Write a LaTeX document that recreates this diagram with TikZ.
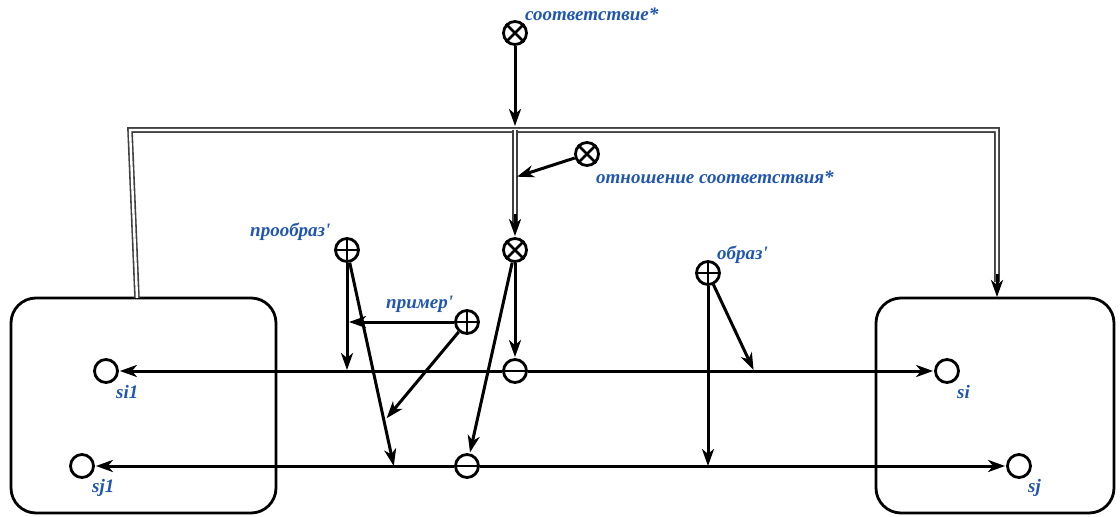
\documentclass[tikz,border=0pt]{standalone}
\usepackage{fontspec}
\setmainfont{Liberation Serif}
\usetikzlibrary{arrows.meta}
\definecolor{lbl}{RGB}{32,86,178}
\begin{document}
\begin{tikzpicture}[x=1pt,y=-1pt,
  arr/.style={-{Stealth[length=17pt,width=12pt,inset=5pt]}, line width=3pt, shorten >=1pt},
  dbl/.style={draw=black!75, line width=1.6pt, double=white, double distance=2.4pt},
  rel/.style={draw, circle, minimum size=23pt, inner sep=0pt, line width=2.8pt},
  sym/.style={line width=2.6pt},
  elem/.style={draw, circle, minimum size=23pt, inner sep=0pt, line width=2.8pt},
  setbox/.style={draw, rounded corners=25pt, line width=2.8pt},
  lab/.style={text=lbl, font=\fontsize{19}{19}\selectfont\bfseries\itshape, inner sep=0pt},
]
\useasboundingbox (0,0) rectangle (1120,517);

% set boxes
\draw[setbox] (11,298) rectangle (276,513);
\draw[setbox] (876,298) rectangle (1114,513);
\coordinate (Ltop) at (137,298);
\coordinate (Rtop) at (997,298);

% elements
\node[elem] (si1) at (106,371) {};
\node[elem] (sj1) at (82,466) {};
\node[elem] (si) at (947,371) {};
\node[elem] (sj) at (1019,466) {};
\node[lab, anchor=base west] (lsi1) at (116,398) {si1};
\node[lab, anchor=base west] (lsj1) at (92,492) {sj1};
\node[lab, anchor=base west] (lsi) at (957,398) {si};
\node[lab, anchor=base west] (lsj) at (1028,492) {sj};

% relation nodes
\node[rel] (corr) at (515,33) {};
\node[lab, anchor=base west] (lcorr) at (525,20) {соответствие*};
\node[rel] (rcorr) at (587,154) {};
\node[lab, anchor=base west] (lrcorr) at (596,183) {отношение соответствия*};
\node[rel] (mid) at (515,250) {};
\node[rel] (prob) at (347,250) {};
\node[lab, anchor=base west] (lprob) at (250,236) {прообраз\textquotesingle};
\node[rel] (prim) at (467,322) {};
\node[lab, anchor=base west] (lprim) at (386,308) {пример\textquotesingle};
\node[rel] (obr) at (708,273) {};
\node[lab, anchor=base west] (lobr) at (717,259) {образ\textquotesingle};
\node[rel] (mi) at (515,371) {};
\node[rel] (mj) at (467,466) {};

% symbols inside relation nodes
\foreach \n in {corr,rcorr,mid}{
  \draw[sym] (\n.north west) -- (\n.south east) (\n.north east) -- (\n.south west);}
\foreach \n in {prob,prim,obr}{
  \draw[sym] (\n.north) -- (\n.south) (\n.west) -- (\n.east);}
\draw[sym] ([xshift=-11pt]mi.center) -- ([xshift=11pt]mi.center);
\draw[sym] ([xshift=-11pt]mj.center) -- ([xshift=11pt]mj.center);

% double-line structure
\coordinate (TL) at (130,130);
\coordinate (TM) at (515,130);
\coordinate (TR) at (997,130);
\coordinate (ME) at (515,224);
\coordinate (RE) at (997,282);
\draw[dbl] (Ltop) -- (TL) -- (TR) -- (RE);
\draw[dbl] (TM) -- (ME);
\coordinate (TMa) at (515,127);
\coordinate (RA) at (516,177);
\draw[arr] (corr) -- (TMa);
\draw[arr] (rcorr) -- (RA);
\draw[arr] (515,214) -- (mid);
\draw[arr] (997,274) -- (Rtop);

% horizontal pairs
\draw[arr] (mi) -- (si1);
\draw[arr] (mi) -- (si);
\draw[arr] (mj) -- (sj1);
\draw[arr] (mj) -- (sj);

% mid relation
\draw[arr] (mid) -- (mi);
\draw[arr] (mid) -- (mj);

% прообраз
\coordinate (pv) at (347,371);
\coordinate (pd) at (394,467);
\draw[arr] (prob) -- (pv);
\draw[arr] (prob) -- (pd);

% пример
\coordinate (ph) at (348,322);
\coordinate (pdd) at (386,419);
\draw[arr] (prim) -- (ph);
\draw[arr] (prim) -- (pdd);

% образ
\coordinate (ov) at (708,467);
\coordinate (od) at (754,371);
\draw[arr] (obr) -- (ov);
\draw[arr] (obr) -- (od);
\end{tikzpicture}
\end{document}
